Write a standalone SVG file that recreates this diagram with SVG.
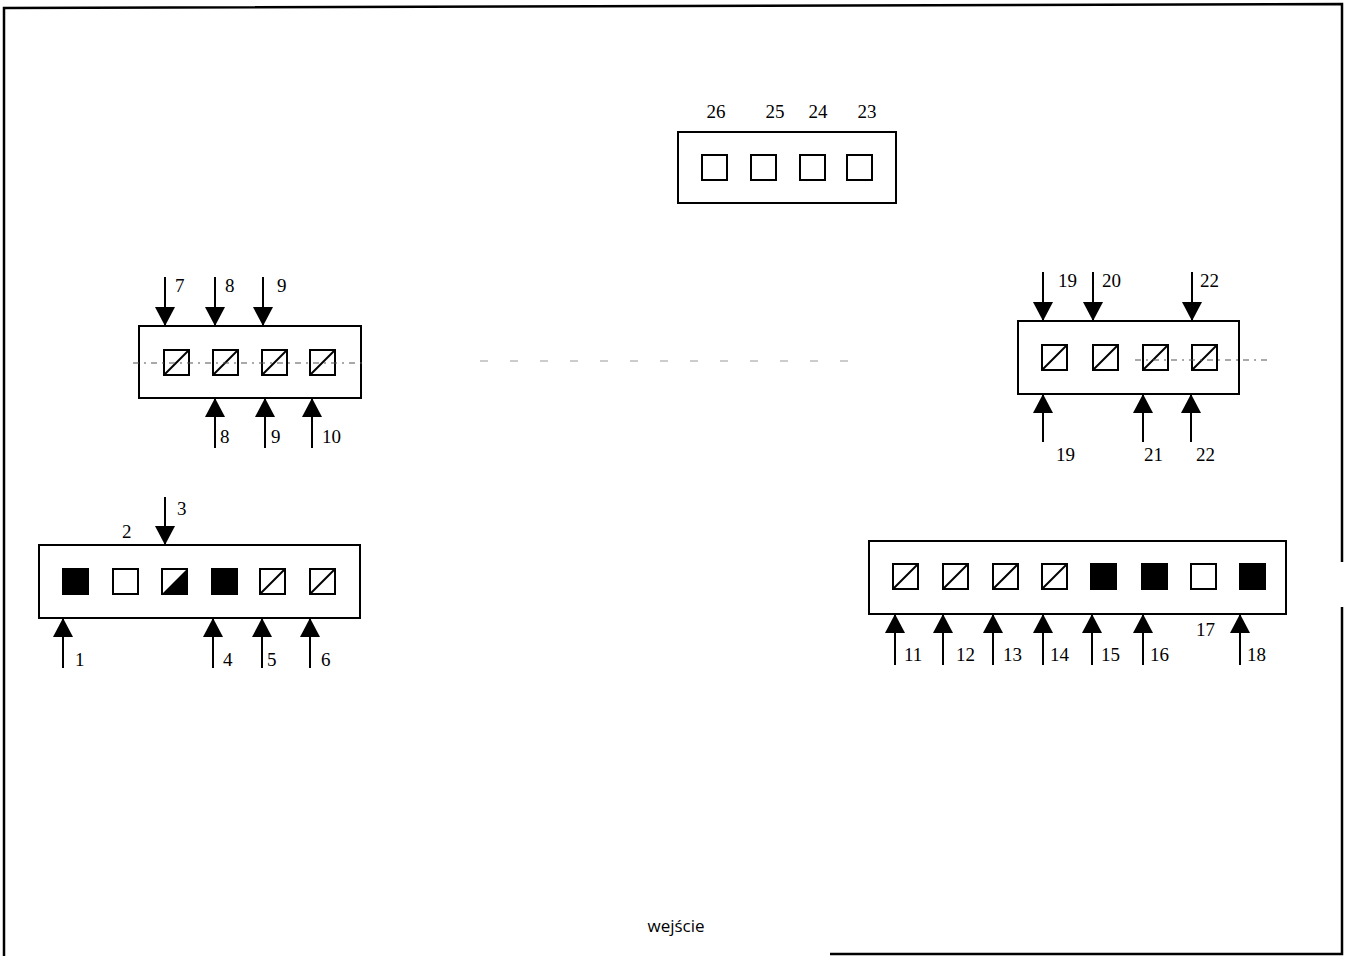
<svg xmlns="http://www.w3.org/2000/svg" width="1348" height="956" viewBox="0 0 1348 956">
<style>
.frame{fill:none;stroke:#000;stroke-width:2.5}
.box{fill:#fff;stroke:#000;stroke-width:2}
.sq{fill:#fff;stroke:#000;stroke-width:2}
.blk{fill:#000;stroke:#000;stroke-width:2}
.diag{stroke:#000;stroke-width:2}
.arr{stroke:#000;stroke-width:2;fill:none;marker-end:url(#ah)}
.dash{stroke:#555;stroke-width:1.2;stroke-dasharray:6 5 2 5;fill:none}
.faint{stroke:#999;stroke-width:1.2;stroke-dasharray:8 22;fill:none}
.num{font-family:"Liberation Serif",serif;font-size:19px;fill:#000}
.lbl{font-family:"Open Sans","DejaVu Sans",sans-serif;font-size:17px;fill:#000}
</style>
<defs>
<marker id="ah" markerUnits="userSpaceOnUse" markerWidth="19" markerHeight="20" refX="19" refY="10" orient="auto">
<path d="M0,0 L19,10 L0,20 z" fill="#000"/>
</marker>
<g id="sqd"><rect class="sq" x="0" y="0" width="25" height="25"/><line class="diag" x1="0" y1="25" x2="25" y2="0"/></g>
<g id="sqw"><rect class="sq" x="0" y="0" width="25" height="25"/></g>
<g id="sqb"><rect class="blk" x="0" y="0" width="25" height="25"/></g>
<g id="sqh"><rect class="sq" x="0" y="0" width="25" height="25"/><path d="M0,25 L25,0 L25,25 z" fill="#000"/></g>
</defs>
<rect width="1348" height="956" fill="#fff"/>
<g id="frame">
<polyline class="frame" points="4,956 4,8 1342,4 1342,562"/>
<polyline class="frame" points="1342,607 1342,954 830,954"/>
</g>
<line class="faint" x1="480" y1="361" x2="860" y2="361"/>
<g id="box-top">
<rect class="box" x="678" y="132" width="218" height="71"/>
<use href="#sqw" x="702" y="155"/>
<use href="#sqw" x="751" y="155"/>
<use href="#sqw" x="800" y="155"/>
<use href="#sqw" x="847" y="155"/>
<text class="num" x="716" y="118" text-anchor="middle">26</text>
<text class="num" x="775" y="118" text-anchor="middle">25</text>
<text class="num" x="818" y="118" text-anchor="middle">24</text>
<text class="num" x="867" y="118" text-anchor="middle">23</text>
</g>
<g id="box-left-mid">
<rect class="box" x="139" y="326" width="222" height="72"/>
<use href="#sqd" x="164" y="350"/>
<use href="#sqd" x="213" y="350"/>
<use href="#sqd" x="262" y="350"/>
<use href="#sqd" x="310" y="350"/>
<line class="dash" x1="133" y1="363" x2="362" y2="363"/>
<text class="num" x="175" y="292">7</text>
<text class="num" x="225" y="292">8</text>
<text class="num" x="277" y="292">9</text>
<text class="num" x="220" y="443">8</text>
<text class="num" x="271" y="443">9</text>
<text class="num" x="322" y="443">10</text>
</g>
<g id="box-right-mid">
<rect class="box" x="1018" y="321" width="221" height="73"/>
<use href="#sqd" x="1042" y="345"/>
<use href="#sqd" x="1093" y="345"/>
<use href="#sqd" x="1143" y="345"/>
<use href="#sqd" x="1192" y="345"/>
<line class="dash" x1="1135" y1="360" x2="1272" y2="360"/>
<text class="num" x="1058" y="287">19</text>
<text class="num" x="1102" y="287">20</text>
<text class="num" x="1200" y="287">22</text>
<text class="num" x="1056" y="461">19</text>
<text class="num" x="1144" y="461">21</text>
<text class="num" x="1196" y="461">22</text>
</g>
<g id="box-left-bottom">
<rect class="box" x="39" y="545" width="321" height="73"/>
<use href="#sqb" x="63" y="569"/>
<use href="#sqw" x="113" y="569"/>
<use href="#sqh" x="162" y="569"/>
<use href="#sqb" x="212" y="569"/>
<use href="#sqd" x="260" y="569"/>
<use href="#sqd" x="310" y="569"/>
<text class="num" x="122" y="538">2</text>
<text class="num" x="177" y="515">3</text>
<text class="num" x="75" y="666">1</text>
<text class="num" x="223" y="666">4</text>
<text class="num" x="267" y="666">5</text>
<text class="num" x="321" y="666">6</text>
</g>
<g id="box-right-bottom">
<rect class="box" x="869" y="541" width="417" height="73"/>
<use href="#sqd" x="893" y="564"/>
<use href="#sqd" x="943" y="564"/>
<use href="#sqd" x="993" y="564"/>
<use href="#sqd" x="1042" y="564"/>
<use href="#sqb" x="1091" y="564"/>
<use href="#sqb" x="1142" y="564"/>
<use href="#sqw" x="1191" y="564"/>
<use href="#sqb" x="1240" y="564"/>
<text class="num" x="1196" y="636">17</text>
<text class="num" x="904" y="661">11</text>
<text class="num" x="956" y="661">12</text>
<text class="num" x="1003" y="661">13</text>
<text class="num" x="1050" y="661">14</text>
<text class="num" x="1101" y="661">15</text>
<text class="num" x="1150" y="661">16</text>
<text class="num" x="1247" y="661">18</text>
</g>
<g id="connectors">
<line class="arr" x1="165" y1="277" x2="165" y2="326"/>
<line class="arr" x1="215" y1="277" x2="215" y2="326"/>
<line class="arr" x1="263" y1="277" x2="263" y2="326"/>
<line class="arr" x1="215" y1="448" x2="215" y2="398"/>
<line class="arr" x1="265" y1="448" x2="265" y2="398"/>
<line class="arr" x1="312" y1="448" x2="312" y2="398"/>
<line class="arr" x1="1043" y1="272" x2="1043" y2="321"/>
<line class="arr" x1="1093" y1="272" x2="1093" y2="321"/>
<line class="arr" x1="1192" y1="272" x2="1192" y2="321"/>
<line class="arr" x1="1043" y1="442" x2="1043" y2="394"/>
<line class="arr" x1="1143" y1="442" x2="1143" y2="394"/>
<line class="arr" x1="1191" y1="442" x2="1191" y2="394"/>
<line class="arr" x1="165" y1="497" x2="165" y2="545"/>
<line class="arr" x1="63" y1="668" x2="63" y2="618"/>
<line class="arr" x1="213" y1="668" x2="213" y2="618"/>
<line class="arr" x1="262" y1="668" x2="262" y2="618"/>
<line class="arr" x1="310" y1="668" x2="310" y2="618"/>
<line class="arr" x1="895" y1="665" x2="895" y2="614"/>
<line class="arr" x1="943" y1="665" x2="943" y2="614"/>
<line class="arr" x1="993" y1="665" x2="993" y2="614"/>
<line class="arr" x1="1043" y1="665" x2="1043" y2="614"/>
<line class="arr" x1="1092" y1="665" x2="1092" y2="614"/>
<line class="arr" x1="1143" y1="665" x2="1143" y2="614"/>
<line class="arr" x1="1240" y1="665" x2="1240" y2="614"/>
</g>
<text class="lbl" x="676" y="932" text-anchor="middle">wejście</text>
</svg>
